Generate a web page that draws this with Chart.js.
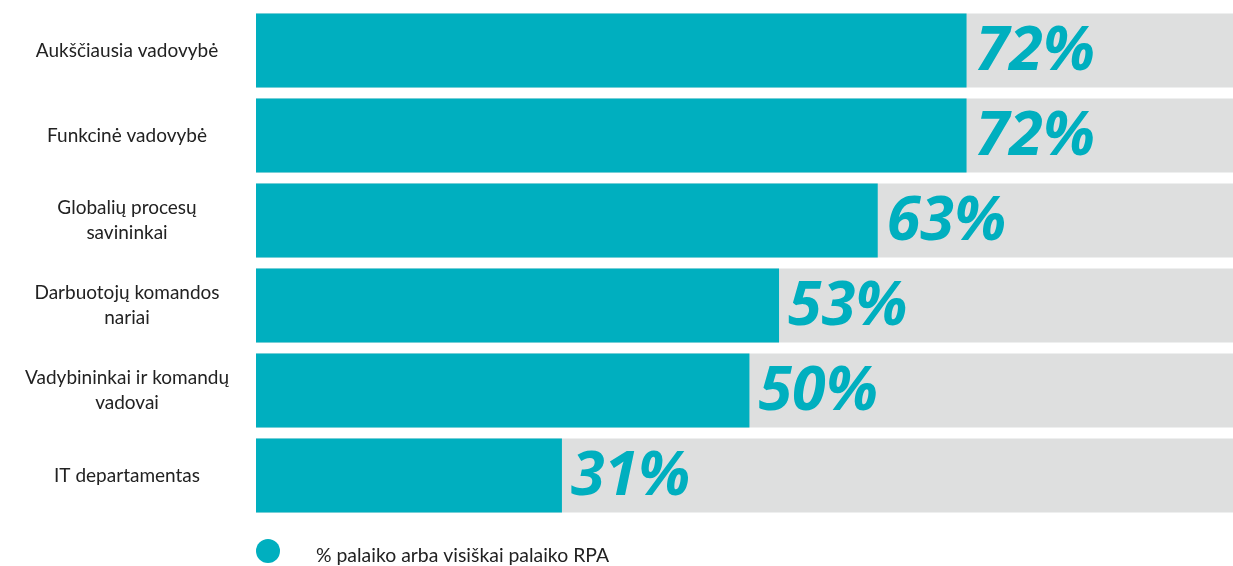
<!DOCTYPE html>
<html>
<head>
<meta charset="utf-8">
<script src="https://cdn.jsdelivr.net/npm/chart.js@4.4.1/dist/chart.umd.min.js"></script>
<style>
  html, body { margin: 0; padding: 0; background: #fff; }
  #wrap { width: 1233px; height: 566px; }
</style>
</head>
<body>
<div id="wrap"><canvas id="rpaChart" width="1233" height="566"></canvas></div>
<script>
// Groups (multi-line labels as arrays)
const groups = [
  "Aukščiausia vadovybė",
  "Funkcinė vadovybė",
  ["Globalių procesų", "savininkai"],
  ["Darbuotojų komandos", "nariai"],
  ["Vadybininkai ir komandų", "vadovai"],
  "IT departamentas"
];
// % supporting or fully supporting RPA
const support = [72, 72, 63, 53, 50, 31];
// full-scale track behind each bar
const track = [100, 100, 100, 100, 100, 100];
const seriesLabel = "% palaiko arba visiškai palaiko RPA";

const TEAL = "#00AFBF";
const GRAY = "#DEDFDF";
const LABEL_FONT = "Lato";

// big italic percentages right after each bar
const valueLabels = {
  id: "valueLabels",
  afterDatasetsDraw(chart) {
    const ctx = chart.ctx;
    const meta = chart.getDatasetMeta(0);
    ctx.save();
    ctx.font = "italic bold 61px 'Open Sans'";
    ctx.fillStyle = TEAL;
    ctx.textAlign = "left";
    ctx.textBaseline = "middle";
    meta.data.forEach((bar, i) => {
      ctx.fillText(support[i] + "%", bar.x + 9, bar.y + 2);
    });
    ctx.restore();
  }
};

// simple legend under the bars
const bottomLegend = {
  id: "bottomLegend",
  afterDraw(chart) {
    const ctx = chart.ctx;
    const area = chart.chartArea;
    const y = area.bottom + 33;
    ctx.save();
    ctx.fillStyle = TEAL;
    ctx.beginPath();
    ctx.arc(area.left + 12, y, 12, 0, Math.PI * 2);
    ctx.fill();
    ctx.fillStyle = "#222";
    ctx.font = "19.4px " + LABEL_FONT;
    ctx.textBaseline = "middle";
    ctx.fillText(chart.data.datasets[0].label, area.left + 60, y + 5);
    ctx.restore();
  }
};

new Chart(document.getElementById("rpaChart"), {
  type: "bar",
  data: {
    labels: groups,
    datasets: [
      { label: seriesLabel, data: support, backgroundColor: TEAL, grouped: false, order: 0 },
      { label: "track", data: track, backgroundColor: GRAY, grouped: false, order: 1 }
    ]
  },
  options: {
    indexAxis: "y",
    responsive: false,
    animation: false,
    categoryPercentage: 1,
    barPercentage: 0.87,
    layout: { padding: { top: 8, bottom: 48, left: 0, right: 0 } },
    scales: {
      // the grey track runs slightly past the right edge of the picture
      x: { display: false, min: 0, max: 99 },
      y: {
        grid: { display: false, drawTicks: false },
        border: { display: false },
        afterFit(scale) {
          scale.width = 256;
          scale.paddingTop = 0;
          scale.paddingBottom = 0;
        },
        ticks: {
          crossAlign: "center",
          padding: 27,
          color: "#222",
          font: { family: LABEL_FONT, size: 19, lineHeight: 1.32 }
        }
      }
    },
    plugins: {
      legend: { display: false },
      tooltip: { enabled: false }
    }
  },
  plugins: [valueLabels, bottomLegend]
});
</script>
</body>
</html>
